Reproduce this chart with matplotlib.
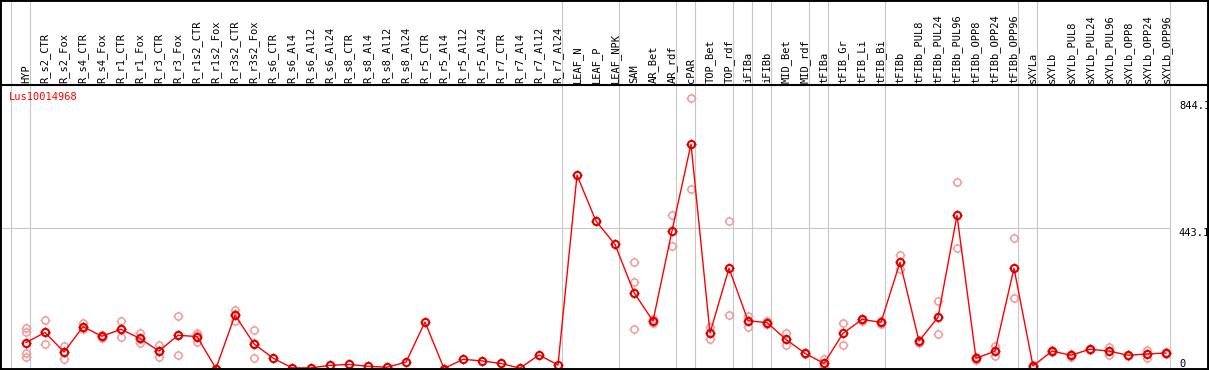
import matplotlib
matplotlib.use("Agg")
import matplotlib.pyplot as plt
from matplotlib.path import Path
from matplotlib.patches import Rectangle

gene = "Lus10014968"

labels = ["HYP", "R_s2_CTR", "R_s2_Fox", "R_s4_CTR", "R_s4_Fox", "R_r1_CTR", "R_r1_Fox",
          "R_r3_CTR", "R_r3_Fox", "R_r1s2_CTR", "R_r1s2_Fox", "R_r3s2_CTR", "R_r3s2_Fox",
          "R_s6_CTR", "R_s6_Al4", "R_s6_Al12", "R_s6_Al24", "R_s8_CTR", "R_s8_Al4",
          "R_s8_Al12", "R_s8_Al24", "R_r5_CTR", "R_r5_Al4", "R_r5_Al12", "R_r5_Al24",
          "R_r7_CTR", "R_r7_Al4", "R_r7_Al12", "R_r7_Al24", "LEAF_N", "LEAF_P", "LEAF_NPK",
          "SAM", "AR_Bet", "AR_rdf", "cPAR", "TOP_Bet", "TOP_rdf", "iFIBa", "iFIBb",
          "MID_Bet", "MID_rdf", "tFIBa", "tFIB_Gr", "tFIB_Li", "tFIB_Bi", "tFIBb",
          "tFIBb_PUL8", "tFIBb_PUL24", "tFIBb_PUL96", "tFIBb_OPP8", "tFIBb_OPP24",
          "tFIBb_OPP96", "sXYLa", "sXYLb", "sXYLb_PUL8", "sXYLb_PUL24", "sXYLb_PUL96",
          "sXYLb_OPP8", "sXYLb_OPP24", "sXYLb_OPP96"]

means = [82, 114, 52, 132, 102, 124, 95, 55, 105, 101, 0, 169, 78,
         33, 2, 2, 10, 13, 7, 4, 20, 147, 0, 29, 24, 16, 1, 43, 11,
         611, 466, 392, 240, 150, 435, 709, 112, 317, 151, 145, 92, 48,
         16, 111, 155, 146, 336, 87, 162, 484, 32, 55, 317,
         8, 55, 42, 61, 55, 42, 46, 49]

# individual replicates (pale circles)
reps = [[129, 116, 50, 35], [152, 114, 77], [71, 53, 31], [145, 124, 130], [107, 98, 101],
        [149, 124, 100], [113, 82, 92], [73, 37, 55], [166, 42, 106], [113, 84, 106],
        [0, 0, 0], [185, 150, 172], [121, 32, 80],
        [], [], [], [], [], [], [], [], [], [], [], [], [], [], [], [],
        [], [], [], [336, 272, 124], [155, 145], [485, 386], [854, 566], [132, 92],
        [465, 168], [166, 132], [150, 140], [111, 73], [50, 46],
        [31, 6], [143, 73], [158, 150], [150, 141], [358, 314], [90, 81], [212, 109],
        [588, 380], [35, 28], [71, 40], [411, 223],
        [10, 4], [57, 53], [46, 37], [63, 59], [69, 42], [44, 40], [58, 32], [51, 47]]

# last column index of each group (separator drawn right after it)
group_ends = [-1, 0, 28, 31, 34, 35, 37, 38, 39, 41, 42, 45, 52, 53, 60]

ytick_vals = [0, 443.1, 844.1]
ytick_labels = ["0", "443.1", "844.1"]

mono = "DejaVu Sans Mono"
fs = 7.5

fig = plt.figure(figsize=(12.09, 3.70), dpi=100)
ax = fig.add_axes([0, 0, 1, 285 / 370])
ax.set_xlim(-26 / 19, -26 / 19 + 1209 / 19)
ax.set_ylim(-4.7, 896)

gray = "#c8c8c8"
for g in group_ends:
    ax.axvline(g + 0.23, ymin=0, ymax=370 / 285, clip_on=False, color=gray, lw=0.8, zorder=1)
ax.hlines(443.1, -2, group_ends[-1] + 0.23, color=gray, lw=0.8, zorder=1)

# little tick "nubs" round the circles
nub = Path([(0, 1), (0, 1.5), (0, -1), (0, -1.5), (1, 0), (1.5, 0), (-1, 0), (-1.5, 0)],
           [Path.MOVETO, Path.LINETO] * 4)

rx = [i for i, r in enumerate(reps) for _ in r]
ry = [v for r in reps for v in r]
pale = "#f09a9a"
ax.plot(rx, ry, ls="none", marker="o", ms=5.2, mfc="none", mec=pale, mew=1.1, zorder=2)
ax.plot(rx, ry, ls="none", marker=nub, ms=7.8, mec=pale, mew=0.9, zorder=2)

xs = list(range(len(means)))
ax.plot(xs, means, color="red", lw=1.0, zorder=3)
ax.plot(xs, means, ls="none", marker="o", ms=5.2, mfc="none", mec="#e00000", mew=1.5, zorder=4)
ax.plot(xs, means, ls="none", marker=nub, ms=7.8, mec="#c00000", mew=1.0, zorder=4)

ax.xaxis.tick_top()
ax.set_xticks(xs)
ax.set_xticklabels(labels, rotation=90, fontsize=fs, family=mono)
ax.tick_params(axis="x", length=0, pad=1.5)
ax.set_yticks([])

for v, t in zip(ytick_vals, ytick_labels):
    ax.text(60.68, v, t, fontsize=fs, family=mono, ha="left",
            va="bottom" if v == 0 else "top", clip_on=False)

fig.text(9 / 1209, 1 - 92 / 370, gene, color="red", fontsize=fs, family=mono, va="top")

for s in ["left", "right", "bottom"]:
    ax.spines[s].set_visible(False)
ax.spines["top"].set_linewidth(1.5)
fig.patches.append(Rectangle((0, 0), 1, 1, transform=fig.transFigure, fill=False,
                             edgecolor="black", lw=2.8))

fig.savefig("out.png", dpi=100)
